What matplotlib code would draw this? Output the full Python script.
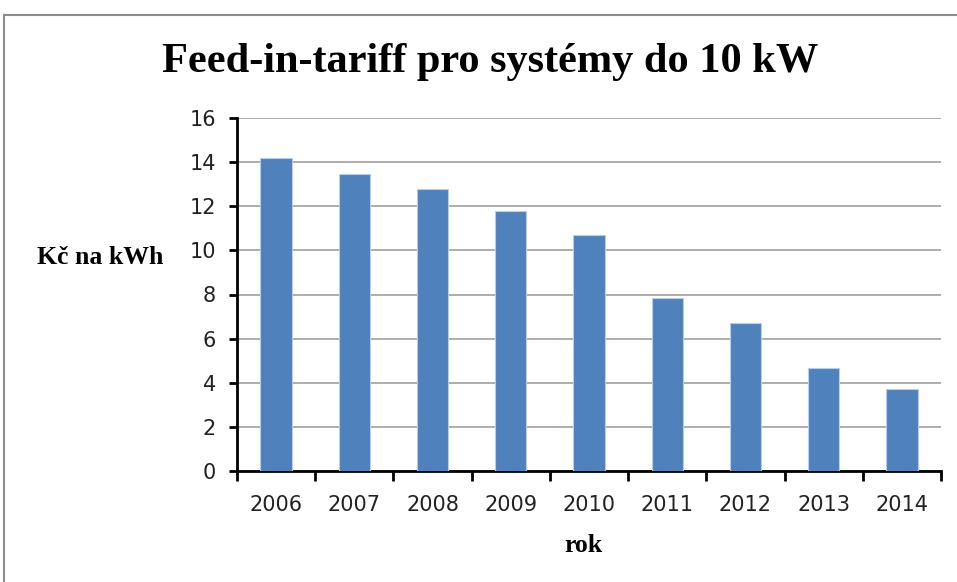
import matplotlib
matplotlib.use("Agg")
import matplotlib.pyplot as plt
from matplotlib.patches import Rectangle
import numpy as np

years = ["2006", "2007", "2008", "2009", "2010", "2011", "2012", "2013", "2014"]
values = [14.2, 13.45, 12.8, 11.8, 10.7, 7.86, 6.7, 4.66, 3.73]

W, H = 957, 582
fig = plt.figure(figsize=(W / 100, H / 100), dpi=100)
fig.patch.set_facecolor("white")

# chart border
fig.patches.append(Rectangle((4 / W, -0.1), 1.2, (H - 15) / H + 0.1, transform=fig.transFigure,
                             fill=False, edgecolor="#8c8c8c", linewidth=1.5))

left, right, top, bottom = 237, 941, 118, 471
ax = fig.add_axes([left / W, 1 - bottom / H, (right - left) / W, (bottom - top) / H])

x = np.arange(len(years))
ax.bar(x, values, width=0.4, color="#4F81BD", edgecolor="#B9CDE5", linewidth=0.8, zorder=3)

ax.set_xlim(-0.5, len(years) - 0.5)
ax.set_ylim(0, 16)
ax.set_yticks(np.arange(0, 17, 2))
ax.yaxis.grid(True, color="#a0a0a0", linewidth=1.2, zorder=0)
ax.set_axisbelow(True)

for s in ["top", "right"]:
    ax.spines[s].set_visible(False)
for s in ["left", "bottom"]:
    ax.spines[s].set_linewidth(2)
    ax.spines[s].set_color("black")

tickfont = "DejaVu Sans"
ax.set_xticks(x)
ax.set_xticklabels(years, fontsize=15, family=tickfont, color="#222222")
ax.tick_params(axis="x", length=0, pad=17)
ax.set_xticks(np.arange(-0.5, len(years), 1), minor=True)
ax.tick_params(axis="x", which="minor", length=7, width=2, direction="out")
ax.tick_params(axis="y", length=6, width=2, direction="out", pad=9)
for lab in ax.get_yticklabels():
    lab.set_fontsize(15)
    lab.set_family(tickfont)
    lab.set_color("#222222")

fig.text(490 / W, 1 - 62 / H, "Feed-in-tariff pro systémy do 10 kW", ha="center", va="center",
         fontsize=30.5, fontweight="bold", family="Liberation Serif")
fig.text(100 / W, 1 - 258 / H, "Kč na kWh", ha="center", va="center",
         fontsize=18.5, fontweight="bold", family="Liberation Serif")
fig.text(583 / W, 1 - 546 / H, "rok", ha="center", va="center",
         fontsize=18.5, fontweight="bold", family="Liberation Serif")

fig.savefig("out.png", dpi=100)
